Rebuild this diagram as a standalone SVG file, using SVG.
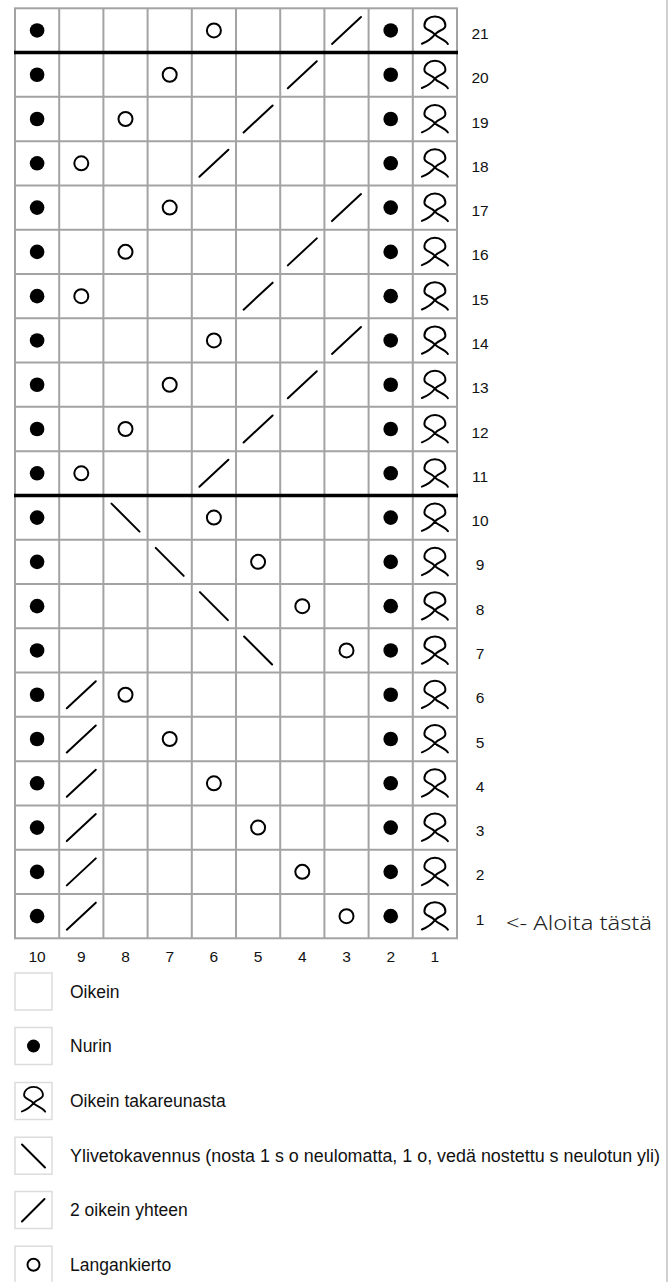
<svg xmlns="http://www.w3.org/2000/svg" xmlns:xlink="http://www.w3.org/1999/xlink" width="672" height="1282" viewBox="0 0 672 1282">
<style>
.grid{fill:none;stroke:#a3a3a3;stroke-width:2}
.thick{stroke:#000;stroke-width:3.5}
.sym{fill:none;stroke:#000;stroke-width:2;stroke-linecap:round;stroke-linejoin:round}
.num{font-family:"Liberation Sans",Arial,sans-serif;font-size:15.5px;fill:#111;text-anchor:middle}
.leg{font-family:"Liberation Sans",Arial,sans-serif;font-size:17.5px;fill:#111}
.lbox{fill:#fff;stroke:#dcdcdc;stroke-width:1.5}
.start{font-family:"Noto Sans",sans-serif;font-size:20px;font-weight:300;fill:#222}
</style>
<defs>
<circle id="dot" r="7.3" fill="#000"/>
<circle id="yo" r="7" class="sym"/>
<line id="k2" x1="-14.5" y1="13.5" x2="14.5" y2="-13.5" class="sym"/>
<line id="ssk" x1="-14" y1="-14" x2="14" y2="14" class="sym"/>
<path id="tbl" class="sym" d="M-13,13.3 C-7,11 -3,8 0,4 C4,-1 10.5,0 10.5,-5 C10.5,-10.5 5.5,-14 0,-14 C-5.5,-14 -10.5,-10.5 -10.5,-5 C-10.5,0 -4,-1 0,4 C3,7.5 10,9 13,13.5"/>
</defs>
<rect x="0" y="0" width="672" height="1282" fill="#fff"/>
<line x1="667" y1="0" x2="667" y2="1282" stroke="#d0d0d0" stroke-width="2"/>
<g id="chart-grid">
<rect x="15" y="8.3" width="442" height="930" class="grid"/>
<path class="grid" d="M59.2,8.3V938.3M103.4,8.3V938.3M147.6,8.3V938.3M191.8,8.3V938.3M236,8.3V938.3M280.2,8.3V938.3M324.4,8.3V938.3M368.6,8.3V938.3M412.8,8.3V938.3M15,96.87H457M15,141.16H457M15,185.44H457M15,229.73H457M15,274.01H457M15,318.3H457M15,362.59H457M15,406.87H457M15,451.16H457M15,539.73H457M15,584.01H457M15,628.3H457M15,672.59H457M15,716.87H457M15,761.16H457M15,805.44H457M15,849.73H457M15,894.01H457"/>
<line class="thick" x1="14" y1="52.59" x2="458" y2="52.59"/>
<line class="thick" x1="14" y1="495.44" x2="458" y2="495.44"/>
</g>
<g id="row21"><use href="#dot" x="37.1" y="30.44"/><use href="#yo" x="213.9" y="30.44"/><use href="#k2" x="346.5" y="30.44"/><use href="#dot" x="390.7" y="30.44"/><use href="#tbl" x="434.9" y="30.44"/><text class="num" x="480" y="38.9">21</text></g>
<g id="row20"><use href="#dot" x="37.1" y="74.73"/><use href="#yo" x="169.7" y="74.73"/><use href="#k2" x="302.3" y="74.73"/><use href="#dot" x="390.7" y="74.73"/><use href="#tbl" x="434.9" y="74.73"/><text class="num" x="480" y="83.2">20</text></g>
<g id="row19"><use href="#dot" x="37.1" y="119.02"/><use href="#yo" x="125.5" y="119.02"/><use href="#k2" x="258.1" y="119.02"/><use href="#dot" x="390.7" y="119.02"/><use href="#tbl" x="434.9" y="119.02"/><text class="num" x="480" y="127.5">19</text></g>
<g id="row18"><use href="#dot" x="37.1" y="163.3"/><use href="#yo" x="81.3" y="163.3"/><use href="#k2" x="213.9" y="163.3"/><use href="#dot" x="390.7" y="163.3"/><use href="#tbl" x="434.9" y="163.3"/><text class="num" x="480" y="171.8">18</text></g>
<g id="row17"><use href="#dot" x="37.1" y="207.59"/><use href="#yo" x="169.7" y="207.59"/><use href="#k2" x="346.5" y="207.59"/><use href="#dot" x="390.7" y="207.59"/><use href="#tbl" x="434.9" y="207.59"/><text class="num" x="480" y="216.1">17</text></g>
<g id="row16"><use href="#dot" x="37.1" y="251.87"/><use href="#yo" x="125.5" y="251.87"/><use href="#k2" x="302.3" y="251.87"/><use href="#dot" x="390.7" y="251.87"/><use href="#tbl" x="434.9" y="251.87"/><text class="num" x="480" y="260.4">16</text></g>
<g id="row15"><use href="#dot" x="37.1" y="296.16"/><use href="#yo" x="81.3" y="296.16"/><use href="#k2" x="258.1" y="296.16"/><use href="#dot" x="390.7" y="296.16"/><use href="#tbl" x="434.9" y="296.16"/><text class="num" x="480" y="304.7">15</text></g>
<g id="row14"><use href="#dot" x="37.1" y="340.44"/><use href="#yo" x="213.9" y="340.44"/><use href="#k2" x="346.5" y="340.44"/><use href="#dot" x="390.7" y="340.44"/><use href="#tbl" x="434.9" y="340.44"/><text class="num" x="480" y="348.9">14</text></g>
<g id="row13"><use href="#dot" x="37.1" y="384.73"/><use href="#yo" x="169.7" y="384.73"/><use href="#k2" x="302.3" y="384.73"/><use href="#dot" x="390.7" y="384.73"/><use href="#tbl" x="434.9" y="384.73"/><text class="num" x="480" y="393.2">13</text></g>
<g id="row12"><use href="#dot" x="37.1" y="429.02"/><use href="#yo" x="125.5" y="429.02"/><use href="#k2" x="258.1" y="429.02"/><use href="#dot" x="390.7" y="429.02"/><use href="#tbl" x="434.9" y="429.02"/><text class="num" x="480" y="437.5">12</text></g>
<g id="row11"><use href="#dot" x="37.1" y="473.3"/><use href="#yo" x="81.3" y="473.3"/><use href="#k2" x="213.9" y="473.3"/><use href="#dot" x="390.7" y="473.3"/><use href="#tbl" x="434.9" y="473.3"/><text class="num" x="480" y="481.8">11</text></g>
<g id="row10"><use href="#dot" x="37.1" y="517.59"/><use href="#ssk" x="125.5" y="517.59"/><use href="#yo" x="213.9" y="517.59"/><use href="#dot" x="390.7" y="517.59"/><use href="#tbl" x="434.9" y="517.59"/><text class="num" x="480" y="526.1">10</text></g>
<g id="row9"><use href="#dot" x="37.1" y="561.87"/><use href="#ssk" x="169.7" y="561.87"/><use href="#yo" x="258.1" y="561.87"/><use href="#dot" x="390.7" y="561.87"/><use href="#tbl" x="434.9" y="561.87"/><text class="num" x="480" y="570.4">9</text></g>
<g id="row8"><use href="#dot" x="37.1" y="606.16"/><use href="#ssk" x="213.9" y="606.16"/><use href="#yo" x="302.3" y="606.16"/><use href="#dot" x="390.7" y="606.16"/><use href="#tbl" x="434.9" y="606.16"/><text class="num" x="480" y="614.7">8</text></g>
<g id="row7"><use href="#dot" x="37.1" y="650.44"/><use href="#ssk" x="258.1" y="650.44"/><use href="#yo" x="346.5" y="650.44"/><use href="#dot" x="390.7" y="650.44"/><use href="#tbl" x="434.9" y="650.44"/><text class="num" x="480" y="658.9">7</text></g>
<g id="row6"><use href="#dot" x="37.1" y="694.73"/><use href="#k2" x="81.3" y="694.73"/><use href="#yo" x="125.5" y="694.73"/><use href="#dot" x="390.7" y="694.73"/><use href="#tbl" x="434.9" y="694.73"/><text class="num" x="480" y="703.2">6</text></g>
<g id="row5"><use href="#dot" x="37.1" y="739.02"/><use href="#k2" x="81.3" y="739.02"/><use href="#yo" x="169.7" y="739.02"/><use href="#dot" x="390.7" y="739.02"/><use href="#tbl" x="434.9" y="739.02"/><text class="num" x="480" y="747.5">5</text></g>
<g id="row4"><use href="#dot" x="37.1" y="783.3"/><use href="#k2" x="81.3" y="783.3"/><use href="#yo" x="213.9" y="783.3"/><use href="#dot" x="390.7" y="783.3"/><use href="#tbl" x="434.9" y="783.3"/><text class="num" x="480" y="791.8">4</text></g>
<g id="row3"><use href="#dot" x="37.1" y="827.59"/><use href="#k2" x="81.3" y="827.59"/><use href="#yo" x="258.1" y="827.59"/><use href="#dot" x="390.7" y="827.59"/><use href="#tbl" x="434.9" y="827.59"/><text class="num" x="480" y="836.1">3</text></g>
<g id="row2"><use href="#dot" x="37.1" y="871.87"/><use href="#k2" x="81.3" y="871.87"/><use href="#yo" x="302.3" y="871.87"/><use href="#dot" x="390.7" y="871.87"/><use href="#tbl" x="434.9" y="871.87"/><text class="num" x="480" y="880.4">2</text></g>
<g id="row1"><use href="#dot" x="37.1" y="916.16"/><use href="#k2" x="81.3" y="916.16"/><use href="#yo" x="346.5" y="916.16"/><use href="#dot" x="390.7" y="916.16"/><use href="#tbl" x="434.9" y="916.16"/><text class="num" x="480" y="924.7">1</text></g>
<g id="start-note"><text class="start" x="506" y="929.5" textLength="146" lengthAdjust="spacingAndGlyphs">&lt;- Aloita tästä</text></g>
<g id="column-numbers">
<text class="num" x="37.1" y="961.5">10</text><text class="num" x="81.3" y="961.5">9</text><text class="num" x="125.5" y="961.5">8</text><text class="num" x="169.7" y="961.5">7</text><text class="num" x="213.9" y="961.5">6</text><text class="num" x="258.1" y="961.5">5</text><text class="num" x="302.3" y="961.5">4</text><text class="num" x="346.5" y="961.5">3</text><text class="num" x="390.7" y="961.5">2</text><text class="num" x="434.9" y="961.5">1</text>
</g>
<g id="legend-oikein"><rect class="lbox" x="15" y="973" width="37" height="37"/><text class="leg" x="70" y="997.5">Oikein</text></g>
<g id="legend-nurin"><rect class="lbox" x="15" y="1027.5" width="37" height="37"/><circle cx="33.5" cy="1046" r="6.5" fill="#000"/><text class="leg" x="70" y="1052">Nurin</text></g>
<g id="legend-takareunasta"><rect class="lbox" x="15" y="1082.5" width="37" height="37"/><use href="#tbl" transform="translate(33.5,1099.5) scale(0.9)"/><text class="leg" x="70" y="1107">Oikein takareunasta</text></g>
<g id="legend-ylivetokavennus"><rect class="lbox" x="15" y="1137.2" width="37" height="37"/><line class="sym" x1="22" y1="1144.5" x2="45" y2="1167.5"/><text class="leg" x="70" y="1161.7" textLength="590" lengthAdjust="spacingAndGlyphs">Ylivetokavennus (nosta 1 s o neulomatta, 1 o, vedä nostettu s neulotun yli)</text></g>
<g id="legend-2oikein"><rect class="lbox" x="15" y="1191.5" width="37" height="37"/><line class="sym" x1="22" y1="1221.5" x2="44.5" y2="1199"/><text class="leg" x="70" y="1216">2 oikein yhteen</text></g>
<g id="legend-langankierto"><rect class="lbox" x="15" y="1246.2" width="37" height="37"/><circle class="sym" cx="33.5" cy="1264.7" r="6"/><text class="leg" x="70" y="1270.7">Langankierto</text></g>
</svg>
